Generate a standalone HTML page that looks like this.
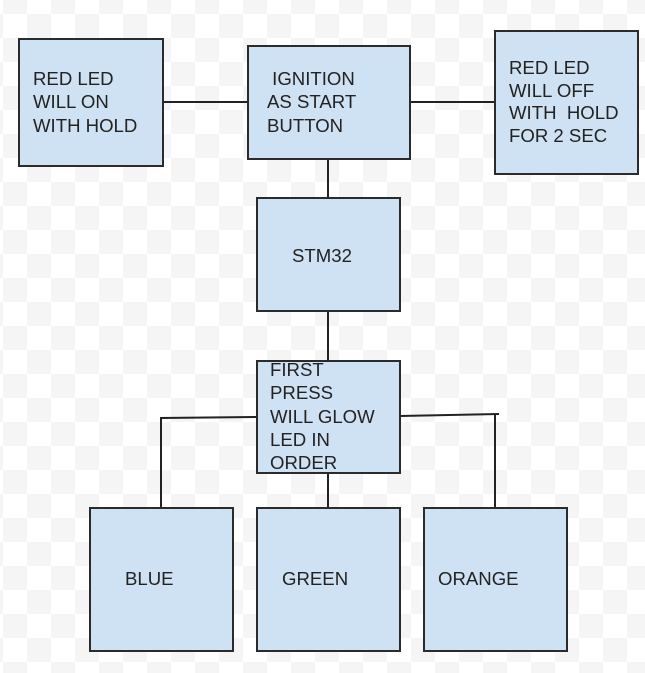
<!DOCTYPE html>
<html><head><meta charset="utf-8"><style>
html,body{margin:0;padding:0}
body{width:645px;height:673px;position:relative;overflow:hidden;
background-color:#fff;
background-image:linear-gradient(45deg,#f5f5f5 25%,transparent 25%,transparent 75%,#f5f5f5 75%),linear-gradient(45deg,#f5f5f5 25%,transparent 25%,transparent 75%,#f5f5f5 75%);
background-size:48px 48px;background-position:3px 14px,27px 38px;
font-family:"Liberation Sans",Arial,sans-serif;}
.b{position:absolute;box-sizing:border-box;background:#cfe2f3;border:2px solid #2b2b2b;}
.t{position:absolute;font-size:18.6px;line-height:23.3px;color:#222;white-space:pre;}
svg{position:absolute;left:0;top:0}
</style></head><body>
<svg width="645" height="673">
<g stroke="#222" stroke-width="2" fill="none">
<line x1="163" y1="102" x2="247" y2="102"/>
<line x1="410" y1="102" x2="494" y2="102"/>
<line x1="328" y1="159" x2="328" y2="197"/>
<line x1="328" y1="311" x2="328" y2="360"/>
<line x1="328" y1="473" x2="328" y2="507"/>
<polyline points="256,417 161,418 161,507"/>
<polyline points="400,416 499,414"/>
<line x1="495" y1="415" x2="495" y2="507"/>
</g>
</svg>
<div class="b" style="left:18px;top:38px;width:146px;height:129px"></div>
<div class="b" style="left:247px;top:45px;width:164px;height:115px"></div>
<div class="b" style="left:494px;top:30px;width:145px;height:145px"></div>
<div class="b" style="left:256px;top:197px;width:145px;height:115px"></div>
<div class="b" style="left:256px;top:360px;width:145px;height:114px"></div>
<div class="b" style="left:89px;top:507px;width:145px;height:145px"></div>
<div class="b" style="left:256px;top:507px;width:145px;height:145px"></div>
<div class="b" style="left:423px;top:507px;width:145px;height:145px"></div>
<div class="t" style="left:33px;top:67px">RED LED
WILL ON
WITH HOLD</div>
<div class="t" style="left:267px;top:67px"> IGNITION
AS START
BUTTON</div>
<div class="t" style="left:509px;top:57px;line-height:22.7px">RED LED
WILL OFF
WITH  HOLD
FOR 2 SEC</div>
<div class="t" style="left:292px;top:244px">STM32</div>
<div class="t" style="left:270px;top:358px">FIRST
PRESS
WILL GLOW
LED IN
ORDER</div>
<div class="t" style="left:125px;top:567px">BLUE</div>
<div class="t" style="left:282px;top:567px">GREEN</div>
<div class="t" style="left:438px;top:567px">ORANGE</div>
</body></html>
